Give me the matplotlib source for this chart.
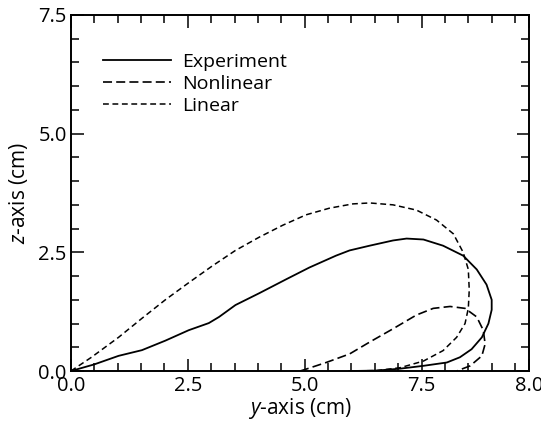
import numpy as np
import matplotlib.pyplot as plt
from matplotlib.ticker import MultipleLocator

plt.rcParams['font.family'] = ['Open Sans', 'DejaVu Sans']
plt.rcParams['mathtext.fontset'] = 'custom'
plt.rcParams['mathtext.rm'] = 'Open Sans'
plt.rcParams['mathtext.it'] = 'Open Sans:italic'
plt.rcParams['lines.scale_dashes'] = False

# curves (y, z in cm)
exp_y = [0.0, 0.50, 1.02, 1.52, 2.02, 2.52, 2.95, 3.17, 3.52, 4.03, 4.60, 5.10, 5.67,
         5.96, 6.39, 6.89, 7.18, 7.54, 7.96, 8.39, 8.68, 8.89, 9.00, 9.00, 8.93,
         8.79, 8.57, 8.32, 8.04, 7.54, 7.04, 6.54, 5.96]
exp_z = [0.0, 0.14, 0.32, 0.44, 0.64, 0.86, 1.01, 1.14, 1.39, 1.64, 1.93, 2.18, 2.43,
         2.54, 2.64, 2.75, 2.79, 2.77, 2.64, 2.43, 2.14, 1.82, 1.50, 1.29, 1.00,
         0.71, 0.46, 0.29, 0.18, 0.11, 0.05, 0.01, 0.0]

nonlin_y = [4.90, 5.03, 5.46, 5.96, 6.39, 6.89, 7.39, 7.75, 8.11, 8.43, 8.68, 8.82,
            8.86, 8.79, 8.54, 8.25]
nonlin_z = [0.0, 0.04, 0.18, 0.36, 0.61, 0.89, 1.18, 1.32, 1.36, 1.32, 1.14, 0.86,
            0.57, 0.32, 0.11, 0.0]

lin_y = [0.0, 0.44, 1.02, 1.52, 2.02, 2.52, 3.02, 3.52, 4.03, 4.53, 5.03, 5.53, 6.03,
         6.39, 6.89, 7.39, 7.82, 8.18, 8.39, 8.50, 8.52, 8.50, 8.43, 8.25, 7.96,
         7.54, 7.04, 6.54, 5.90]
lin_z = [0.0, 0.29, 0.71, 1.11, 1.50, 1.86, 2.21, 2.54, 2.82, 3.07, 3.29, 3.43, 3.52,
         3.54, 3.50, 3.39, 3.18, 2.89, 2.50, 2.14, 1.71, 1.32, 1.00, 0.71, 0.43,
         0.21, 0.07, 0.01, 0.0]

xticks = [0.0, 2.5, 5.0, 7.5, 9.8]
xtick_labels = ['0.0', '2.5', '5.0', '7.5', '8.0']
yticks = [0.0, 2.5, 5.0, 7.5]
ytick_labels = ['0.0', '2.5', '5.0', '7.5']

fig = plt.figure(figsize=(5.41, 4.26), dpi=100)
ax = fig.add_axes([0.131, 0.129, 0.847, 0.836])

ax.plot(exp_y, exp_z, color='black', lw=1.3, label='Experiment')
ax.plot(nonlin_y, nonlin_z, color='black', lw=1.2, dashes=(6.5, 3.0), label='Nonlinear')
ax.plot(lin_y, lin_z, color='black', lw=1.1, dashes=(4.2, 2.6), label='Linear')

ax.set_xlim(0, 9.8)
ax.set_ylim(0, 7.5)
ax.set_xticks(xticks)
ax.set_xticklabels(xtick_labels)
ax.set_yticks(yticks)
ax.set_yticklabels(ytick_labels)
ax.xaxis.set_minor_locator(MultipleLocator(0.5))
ax.yaxis.set_minor_locator(MultipleLocator(0.5))
ax.tick_params(which='both', direction='in', top=True, right=True, width=1.1,
               labelsize=14.5)
ax.tick_params(axis='x', pad=3.5)
ax.tick_params(axis='y', pad=3)
ax.tick_params(which='major', length=9)
ax.tick_params(which='minor', length=6)
for s in ax.spines.values():
    s.set_linewidth(1.4)

ax.set_xlabel(r'$\it{y}$-axis (cm)', fontsize=15, labelpad=0)
ax.set_ylabel(r'$\it{z}$-axis (cm)', fontsize=15, labelpad=6)

ax.legend(loc='upper left', bbox_to_anchor=(0.053, 0.915), frameon=False, fontsize=14,
          handlelength=3.5, handletextpad=0.55, labelspacing=0.2, borderaxespad=0)

fig.savefig('out.png', dpi=100)
